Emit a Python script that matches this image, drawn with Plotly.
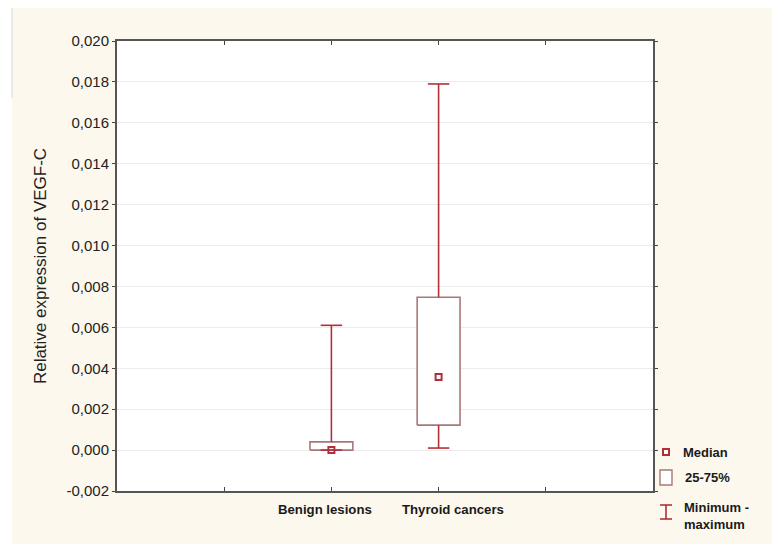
import plotly.graph_objects as go

# ---- data ----
categories = ["Benign lesions", "Thyroid cancers"]
cat_pos = [2, 3]
minimum = [0.0, 0.0001]
q1 = [0.0, 0.00122]
median = [0.0, 0.00357]
q3 = [0.0004, 0.00747]
maximum = [0.0061, 0.0179]

y_ticks = [-0.002, 0.0, 0.002, 0.004, 0.006, 0.008, 0.010, 0.012, 0.014, 0.016, 0.018, 0.020]
y_tick_labels = ["-0,002", "0,000", "0,002", "0,004", "0,006", "0,008",
                 "0,010", "0,012", "0,014", "0,016", "0,018", "0,020"]

W, H = 772, 544
L, R, T, B = 117, 119, 41, 53
PW, PH = W - L - R, H - T - B

WHISK = "#b0303a"
BOXC = "#a87878"
FONT = "Liberation Sans, Arial, sans-serif"

box_half = 0.2
cap_half = 0.1

fig = go.Figure()

for i, c in enumerate(cat_pos):
    # box 25-75%
    fig.add_trace(go.Scatter(
        x=[c - box_half, c + box_half, c + box_half, c - box_half, c - box_half],
        y=[q1[i], q1[i], q3[i], q3[i], q1[i]],
        mode="lines", line=dict(color=BOXC, width=1.6), fill="toself",
        fillcolor="white", showlegend=False, hoverinfo="skip"))
    # upper whisker + cap
    fig.add_trace(go.Scatter(
        x=[c, c, None, c - cap_half, c + cap_half],
        y=[q3[i], maximum[i], None, maximum[i], maximum[i]],
        mode="lines", line=dict(color=WHISK, width=1.6),
        showlegend=False, hoverinfo="skip"))
    # lower whisker + cap
    fig.add_trace(go.Scatter(
        x=[c, c, None, c - cap_half, c + cap_half],
        y=[q1[i], minimum[i], None, minimum[i], minimum[i]],
        mode="lines", line=dict(color=WHISK, width=1.6),
        showlegend=False, hoverinfo="skip"))

# medians
fig.add_trace(go.Scatter(
    x=cat_pos, y=median, mode="markers",
    marker=dict(symbol="square-open", size=6, color=WHISK, line=dict(width=2, color=WHISK)),
    showlegend=False, hoverinfo="skip"))


def px2x(px):
    return (px - L) / PW


def py2y(py):
    return (H - B - py) / PH


shapes = []
# white strips outside the cream page
shapes.append(dict(type="rect", xref="paper", yref="paper",
                   x0=px2x(0), x1=px2x(12), y0=py2y(H), y1=py2y(0),
                   fillcolor="white", line=dict(width=0), layer="below"))
shapes.append(dict(type="rect", xref="paper", yref="paper",
                   x0=px2x(0), x1=px2x(W), y0=py2y(8), y1=py2y(0),
                   fillcolor="white", line=dict(width=0), layer="below"))
shapes.append(dict(type="line", xref="paper", yref="paper",
                   x0=px2x(12), x1=px2x(12), y0=py2y(8), y1=py2y(98),
                   line=dict(color="#d8d8d8", width=1)))

# legend icons
shapes.append(dict(type="rect", xref="paper", yref="paper",
                   x0=px2x(663), x1=px2x(669), y0=py2y(455), y1=py2y(449),
                   line=dict(color=WHISK, width=2), fillcolor="white"))
shapes.append(dict(type="rect", xref="paper", yref="paper",
                   x0=px2x(660), x1=px2x(672), y0=py2y(485), y1=py2y(470),
                   line=dict(color=BOXC, width=1.4), fillcolor="white"))
for seg in [((666, 505), (666, 519)), ((660, 505), (672, 505)), ((660, 519), (672, 519))]:
    (xa, ya), (xb, yb) = seg
    shapes.append(dict(type="line", xref="paper", yref="paper",
                       x0=px2x(xa), x1=px2x(xb), y0=py2y(ya), y1=py2y(yb),
                       line=dict(color=WHISK, width=1.6)))

annotations = []
for text, px, py in [("Median", 681, 452), ("25-75%", 683, 477),
                     ("Minimum -<br>maximum", 682, 516)]:
    annotations.append(dict(text="<b>" + text + "</b>", xref="paper", yref="paper",
                            x=px2x(px), y=py2y(py), xanchor="left", yanchor="middle",
                            showarrow=False, align="left",
                            font=dict(family=FONT, size=13, color="#1a1a1a")))

# category labels (slightly offset from ticks, as in the original)
label_shift = [-6, 14]
for i, c in enumerate(cat_pos):
    annotations.append(dict(text="<b>" + categories[i] + "</b>", xref="x", yref="paper",
                            x=c, xshift=label_shift[i], y=py2y(509),
                            xanchor="center", yanchor="middle", showarrow=False,
                            font=dict(family=FONT, size=13.2, color="#1a1a1a")))

fig.update_layout(
    width=W, height=H,
    margin=dict(l=L, r=R, t=T, b=B),
    paper_bgcolor="#fdf8ee",
    plot_bgcolor="white",
    shapes=shapes,
    annotations=annotations,
    showlegend=False,
    font=dict(family=FONT, color="#222222"),
)

fig.update_xaxes(
    range=[0, 5], tickmode="array", tickvals=[1, 2, 3, 4],
    showticklabels=False,
    ticks="inside", ticklen=4, tickcolor="#444444",
    showline=True, linecolor="#555555", linewidth=2, mirror="ticks",
    showgrid=False, zeroline=False,
)
fig.update_yaxes(
    range=[-0.002, 0.020], tickmode="array", tickvals=y_ticks, ticktext=y_tick_labels,
    ticks="outside", ticklen=3, tickcolor="#444444",
    showline=True, linecolor="#555555", linewidth=2, mirror="ticks",
    showgrid=True, gridcolor="#ececec", gridwidth=1, zeroline=False,
    tickfont=dict(family=FONT, size=15, color="#222222"),
    title=dict(text="Relative expression of VEGF-C", standoff=16,
               font=dict(family=FONT, size=17, color="#222222")),
)

fig.write_html("out.html", config={"displayModeBar": False},
               post_script="document.body.style.margin='0';document.body.style.padding='0';")
